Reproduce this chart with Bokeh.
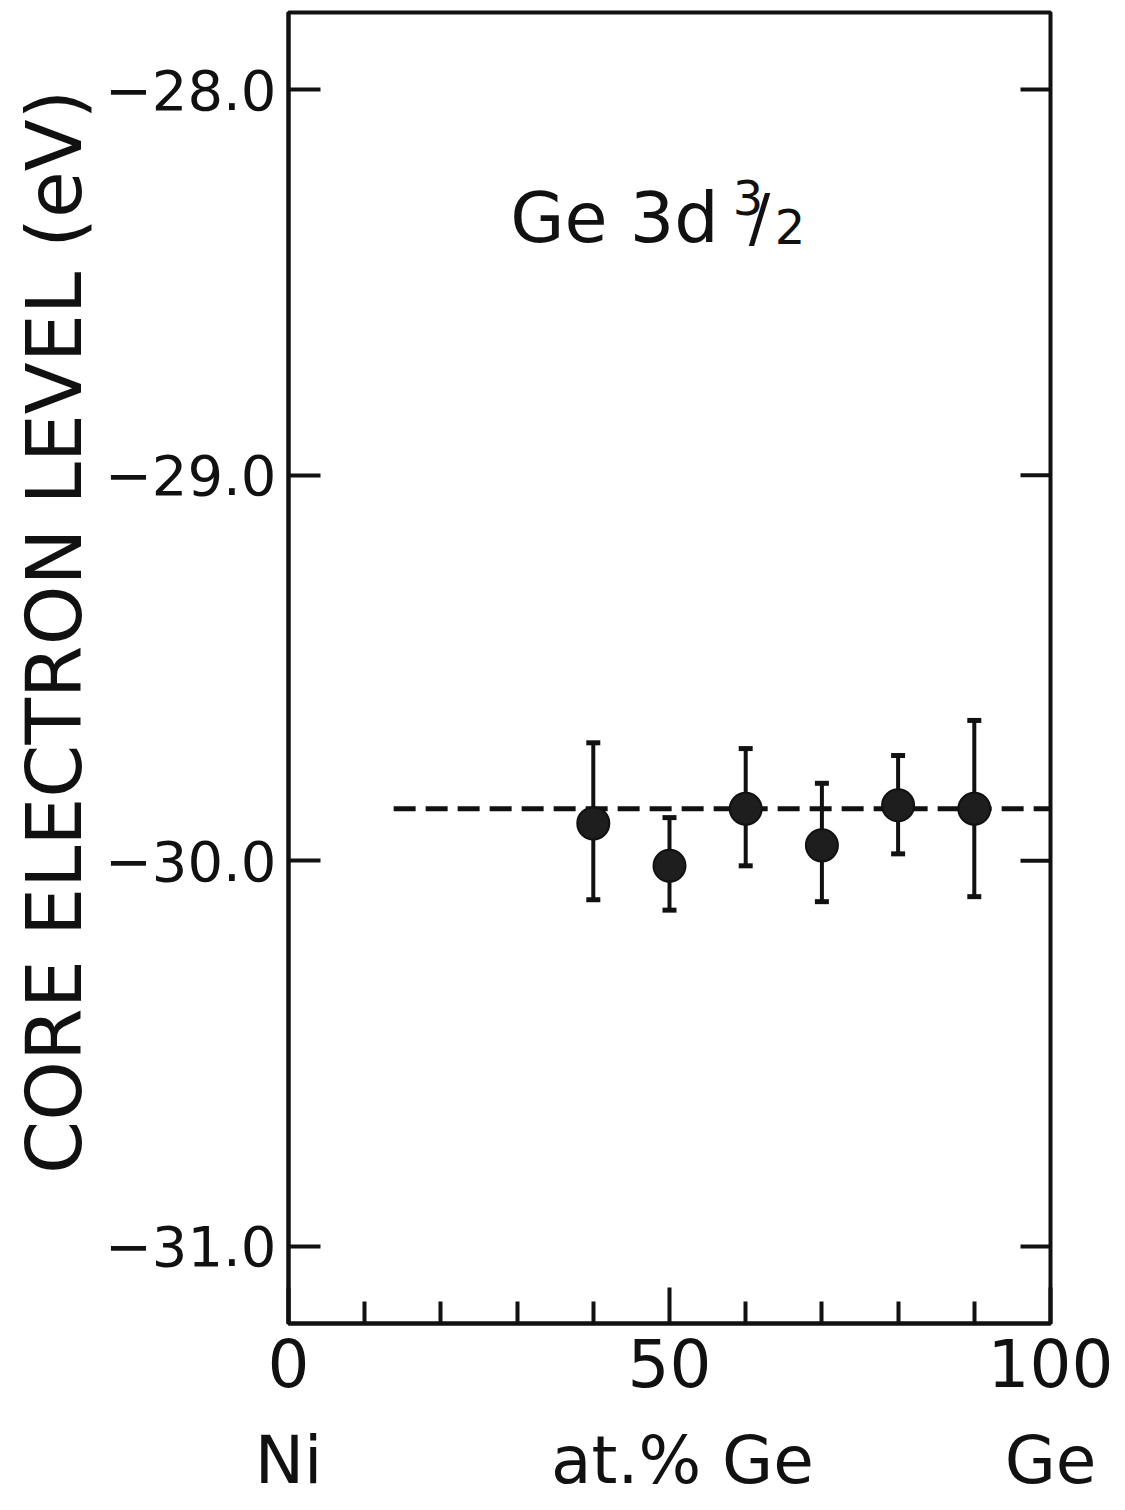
from bokeh.plotting import figure
from bokeh.models import (FixedTicker, LinearAxis, Whisker, ColumnDataSource,
                          Label, TeeHead, Range1d)
from bokeh.embed import file_html
from bokeh.resources import INLINE

# ---- data ----
ge_at_pct = [40, 50, 60, 70, 80, 90]
level_ev = [-29.903, -30.013, -29.865, -29.960, -29.856, -29.865]
err_top = [-29.694, -29.888, -29.709, -29.799, -29.727, -29.636]
err_bottom = [-30.101, -30.128, -30.013, -30.106, -29.982, -30.093]

fit_x = [13.8, 100]
fit_y = [-29.865, -29.865]

y_ticks = [-28.0, -29.0, -30.0, -31.0]
y_tick_labels = ["\u221228.0", "\u221229.0", "\u221230.0", "\u221231.0"]
x_major = [0, 50, 100]
x_minor = [10, 20, 30, 40, 60, 70, 80, 90]
x_end_labels = ["Ni", "at.% Ge", "Ge"]
x_end_pos = [0.0, 51.7, 100.0]

FONT = "DejaVu Sans"
INK = "#111111"

p = figure(width=1125, height=1510,
           x_range=Range1d(0, 100), y_range=Range1d(-31.2, -27.8),
           output_backend="svg", toolbar_location=None,
           min_border_left=288, min_border_right=75,
           min_border_top=12, min_border_bottom=187)
p.grid.visible = False
p.outline_line_color = INK
p.outline_line_width = 4
p.background_fill_color = "white"
p.border_fill_color = "white"

# left axis
ya = p.yaxis[0]
ya.ticker = FixedTicker(ticks=y_ticks, minor_ticks=[])
ya.major_label_overrides = {t: s for t, s in zip(y_ticks, y_tick_labels)}
ya.major_tick_in = 32
ya.major_tick_out = 0
ya.minor_tick_in = 0
ya.minor_tick_out = 0
ya.major_tick_line_width = 4
ya.major_tick_line_color = INK
ya.axis_line_width = 4
ya.axis_line_color = INK
ya.major_label_text_font = FONT
ya.major_label_text_font_size = "56px"
ya.major_label_text_color = INK
ya.major_label_standoff = 12
ya.axis_label = "\u00a0\u00a0\u00a0CORE ELECTRON LEVEL (eV)"
ya.axis_label_text_font = FONT
ya.axis_label_text_font_size = "76px"
ya.axis_label_text_font_style = "normal"
ya.axis_label_text_color = INK
ya.axis_label_standoff = 3

# right-side inward ticks (half of each dash is clipped by the frame)
p.scatter([100] * len(y_ticks), y_ticks, marker="dash", size=60,
          line_color=INK, line_width=4)

# bottom axis
xa = p.xaxis[0]
xa.ticker = FixedTicker(ticks=x_major, minor_ticks=x_minor)
xa.major_tick_in = 36
xa.major_tick_out = 0
xa.minor_tick_in = 22
xa.minor_tick_out = 0
xa.major_tick_line_width = 4
xa.minor_tick_line_width = 4
xa.major_tick_line_color = INK
xa.minor_tick_line_color = INK
xa.axis_line_width = 4
xa.axis_line_color = INK
xa.major_label_text_font = FONT
xa.major_label_text_font_size = "66px"
xa.major_label_text_color = INK
xa.major_label_standoff = 14

# second row of x labels
xb = LinearAxis(ticker=FixedTicker(ticks=x_end_pos, minor_ticks=[]))
xb.major_label_overrides = {t: s for t, s in zip(x_end_pos, x_end_labels)}
xb.axis_line_color = None
xb.major_tick_line_color = None
xb.minor_tick_line_color = None
xb.major_tick_in = 0
xb.major_tick_out = 0
xb.minor_tick_in = 0
xb.minor_tick_out = 0
xb.major_label_text_font = FONT
xb.major_label_text_font_size = "66px"
xb.major_label_text_color = INK
xb.major_label_standoff = 32
p.add_layout(xb, "below")

# fitted dashed line
p.line(fit_x, fit_y, line_color=INK, line_width=5, line_dash="22 10")

# error bars
src = ColumnDataSource(dict(x=ge_at_pct, y=level_ev, top=err_top, bottom=err_bottom))
w = Whisker(source=src, base="x", upper="top", lower="bottom",
            line_color=INK, line_width=4,
            upper_head=TeeHead(size=14, line_width=5, line_color=INK),
            lower_head=TeeHead(size=14, line_width=5, line_color=INK))
p.add_layout(w)

# data points
p.scatter("x", "y", source=src, size=32, fill_color="#1e1e1e", line_color=INK, line_width=2)

# annotation "Ge 3d 3/2"
p.add_layout(Label(x=29.1, y=-28.332, text="Ge 3d", text_font=FONT,
                   text_font_size="70px", text_color=INK, text_baseline="alphabetic"))
p.add_layout(Label(x=58.3, y=-28.28, text="3", text_font=FONT,
                   text_font_size="48px", text_color=INK, text_baseline="alphabetic"))
p.add_layout(Label(x=60.4, y=-28.334, text="/", text_font=FONT,
                   text_font_size="64px", text_color=INK, text_baseline="alphabetic"))
p.add_layout(Label(x=63.8, y=-28.355, text="2", text_font=FONT,
                   text_font_size="48px", text_color=INK, text_baseline="alphabetic"))

open("out.html", "w").write(file_html(p, INLINE))
